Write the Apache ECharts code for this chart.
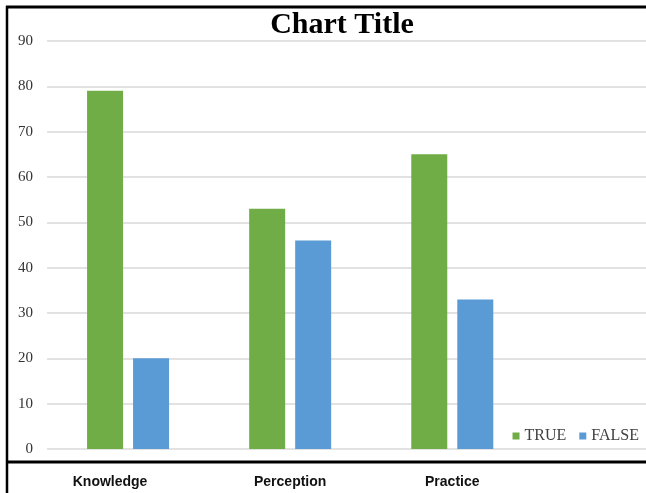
<!DOCTYPE html>
<html>
<head>
<meta charset="utf-8">
<script src="https://cdn.jsdelivr.net/npm/echarts@6/dist/echarts.min.js"></script>
<style>
html,body{margin:0;padding:0;background:#fff;}
#chart{width:646px;height:493px;}
</style>
</head>
<body>
<div id="chart"></div>
<script>
const categories = ['Knowledge', 'Perception', 'Practice'];
const seriesNames = ['TRUE', 'FALSE'];
const trueValues = [79, 53, 65];
const falseValues = [20, 46, 33];
const yTicks = [0, 10, 20, 30, 40, 50, 60, 70, 80, 90];

const chart = echarts.init(document.getElementById('chart'), null, {renderer: 'canvas'});
const catPos = categories.map((c, i) => i + 0.5);

const option = {
  backgroundColor: '#ffffff',
  animation: false,
  title: {
    text: 'Chart Title',
    left: 337,
    textAlign: 'center',
    top: 5,
    textStyle: {fontFamily: 'Liberation Serif', fontWeight: 'bold', fontSize: 30, color: '#000'}
  },
  legend: {
    data: seriesNames,
    right: 2,
    top: 423,
    itemWidth: 7,
    itemHeight: 7,
    itemGap: 13,
    icon: 'rect',
    textStyle: {fontFamily: 'Liberation Serif', fontSize: 16, color: '#404040'}
  },
  grid: {left: 47, right: 0, top: 41, bottom: 44},
  xAxis: {
    type: 'value',
    min: 0,
    max: 3.695,
    splitLine: {show: false},
    axisLine: {show: false},
    axisTick: {show: false},
    axisLabel: {
      customValues: catPos,
      margin: 26,
      fontFamily: 'Liberation Sans',
      fontWeight: 'bold',
      fontSize: 14,
      color: '#111',
      formatter: function (v) {
        const idx = Math.round(v - 0.5);
        const name = categories[idx] || '';
        return idx === 0 ? '{k|' + name + '}' : name;
      },
      rich: {
        k: {fontFamily: 'Liberation Sans', fontWeight: 'bold', fontSize: 14, color: '#111', padding: [0, 36, 0, 0]}
      }
    }
  },
  yAxis: {
    type: 'value',
    min: yTicks[0],
    max: yTicks[yTicks.length - 1],
    interval: 10,
    axisLine: {show: false},
    axisTick: {show: false},
    splitLine: {lineStyle: {color: '#d9d9d9', width: 1.5}},
    axisLabel: {margin: 14, fontFamily: 'Liberation Serif', fontSize: 15, color: '#333'}
  },
  series: [
    {
      name: seriesNames[0],
      type: 'bar',
      barWidth: 36,
      barGap: '27.8%',
      itemStyle: {color: '#70AD47'},
      data: trueValues.map((v, i) => [catPos[i], v])
    },
    {
      name: seriesNames[1],
      type: 'bar',
      barWidth: 36,
      barGap: '27.8%',
      itemStyle: {color: '#5B9BD5'},
      data: falseValues.map((v, i) => [catPos[i], v])
    }
  ],
  graphic: [
    {type: 'line', shape: {x1: 6, y1: 7, x2: 646, y2: 7}, style: {stroke: '#000', lineWidth: 3}},
    {type: 'line', shape: {x1: 7, y1: 6, x2: 7, y2: 493}, style: {stroke: '#000', lineWidth: 2.5}},
    {type: 'line', shape: {x1: 6, y1: 462, x2: 646, y2: 462}, style: {stroke: '#000', lineWidth: 3}}
  ]
};
chart.setOption(option);
</script>
</body>
</html>
